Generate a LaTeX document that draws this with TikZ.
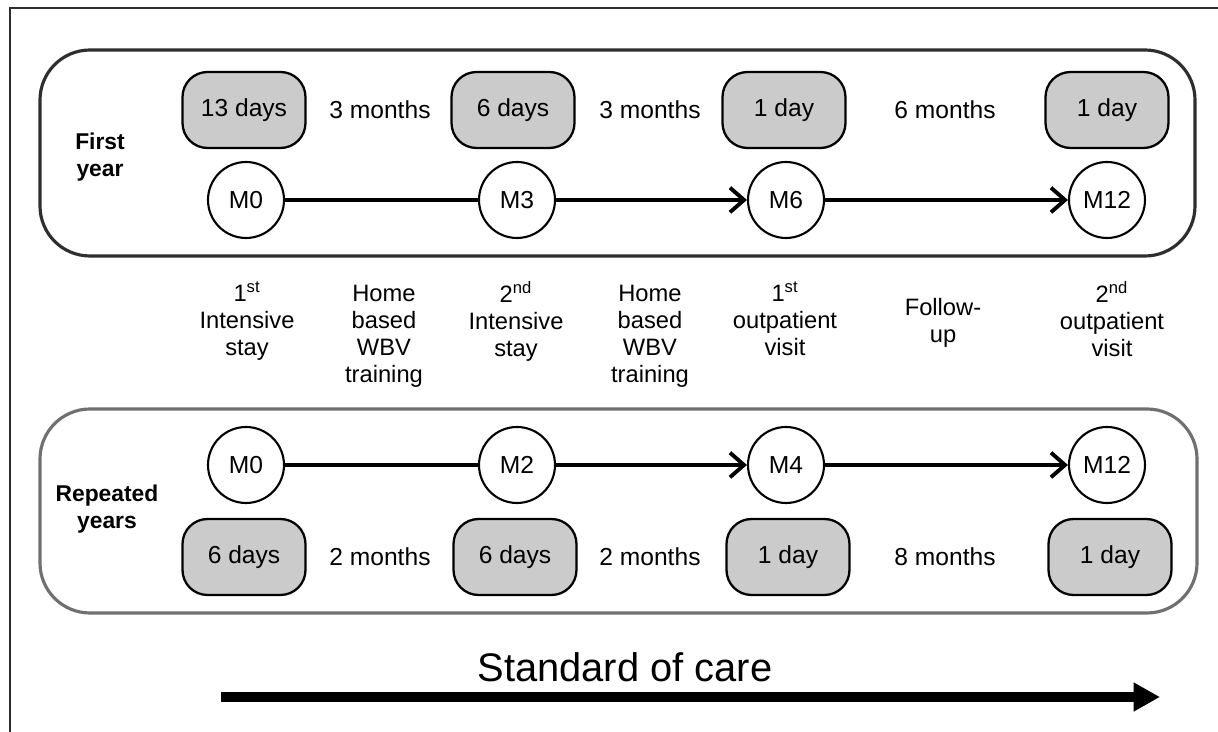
\documentclass[tikz,border=0pt]{standalone}
\usepackage{fontspec}
\setmainfont{Liberation Sans}
\usepackage{xcolor}
\definecolor{carefill}{HTML}{CBCBCB}
\definecolor{caredark}{HTML}{2E2E2E}
\definecolor{caregray}{HTML}{707070}
\usepackage{tikz}
\usetikzlibrary{
  arrows.meta,
  positioning,
}

\begin{document}
\begin{tikzpicture}[
  x=0.02cm, y=-0.02cm,
  stay/.style={
    draw=black, fill=carefill, rounded corners=0.5cm, line width=1.3pt,
    minimum width=2.46cm, minimum height=1.52cm, inner sep=0pt,
    font=\fontsize{14}{16}\selectfont,
  },
  visit/.style={
    circle, draw=black, fill=white, line width=1.2pt,
    minimum size=1.52cm, inner sep=0pt, font=\fontsize{14}{16}\selectfont,
  },
  gap/.style={font=\fontsize{14}{16}\selectfont},
  phase/.style={
    anchor=north, align=center, inner sep=0pt,
    font=\fontsize{13.5}{15.4}\selectfont,
  },
  year/.style={align=center, font=\fontsize{13}{15.4}\selectfont\bfseries},
  link/.style={line width=2.2pt},
  arrow/.style={
    -{Straight Barb[length=8pt,width=14pt,line width=2.2pt]}, line width=2.2pt,
  },
]
  \useasboundingbox (0,0) rectangle (1218,732);

  % Frame
  \draw[line width=1.1pt, color=caredark] (1218,8) -- (10,8) -- (10,732);

  % First year
  \draw[line width=1.8pt, color=caredark, rounded corners=1cm]
    (40,50) rectangle (1195,256);
  \node[year] (fy) at (100,157) {First\\year};

  \node[stay] (fs0) at (244,110) {13 days};
  \node[stay] (fs3) at (513,110) {6 days};
  \node[stay] (fs6) at (784,110) {1 day};
  \node[stay] (fs12) at (1107,110) {1 day};
  \node[gap] (fg1) at (380,110) {3 months};
  \node[gap] (fg2) at (650,110) {3 months};
  \node[gap] (fg3) at (945,110) {6 months};

  \node[visit] (fm0) at (246,200) {M0};
  \node[visit] (fm3) at (517,200) {M3};
  \node[visit] (fm6) at (786,200) {M6};
  \node[visit] (fm12) at (1107,200) {M12};

  \draw[link] (fm0) -- (fm3);
  \draw[arrow] (fm3) -- (fm6);
  \draw[arrow] (fm6) -- (fm12);

  % Phases
  \node[phase] (p1) at (247,281) {1\textsuperscript{st}\\Intensive\\stay};
  \node[phase] (p2) at (384,285) {Home\\based\\WBV\\training};
  \node[phase] (p3) at (516,281) {2\textsuperscript{nd}\\Intensive\\stay};
  \node[phase] (p4) at (650,285) {Home\\based\\WBV\\training};
  \node[phase] (p5) at (785,281) {1\textsuperscript{st}\\outpatient\\visit};
  \node[phase] (p6) at (943,298) {Follow-\\up};
  \node[phase] (p7) at (1112,281) {2\textsuperscript{nd}\\outpatient\\visit};

  % Repeated years
  \draw[line width=1.8pt, color=caregray, rounded corners=1cm]
    (40,409) rectangle (1197,613);
  \node[year] (ry) at (107,509) {Repeated\\years};

  \node[visit] (rm0) at (246,465) {M0};
  \node[visit] (rm2) at (517,465) {M2};
  \node[visit] (rm4) at (786,465) {M4};
  \node[visit] (rm12) at (1107,465) {M12};

  \draw[link] (rm0) -- (rm2);
  \draw[arrow] (rm2) -- (rm4);
  \draw[arrow] (rm4) -- (rm12);

  \node[stay] (rs0) at (244,557) {6 days};
  \node[stay] (rs2) at (515,557) {6 days};
  \node[stay] (rs4) at (788,557) {1 day};
  \node[stay] (rs12) at (1110,557) {1 day};
  \node[gap] (rg1) at (380,557) {2 months};
  \node[gap] (rg2) at (650,557) {2 months};
  \node[gap] (rg3) at (945,557) {8 months};

  % Standard of care
  \node[font=\fontsize{22.7}{26}\selectfont] (soc) at (625,667) {Standard of care};
  \coordinate (socstart) at (221,697);
  \coordinate (socend) at (1160,697);
  \draw[-{Triangle[length=15pt,width=15.5pt]}, line width=5.6pt]
    (socstart) -- (socend);
\end{tikzpicture}
\end{document}
